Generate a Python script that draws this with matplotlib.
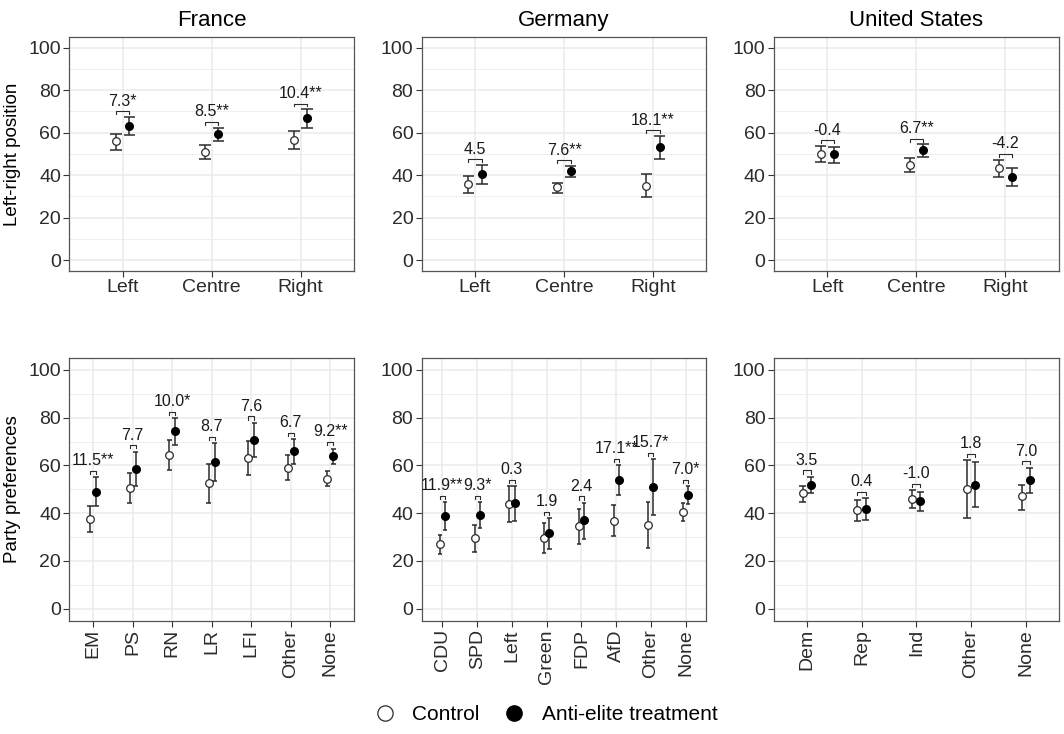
import numpy as np
import matplotlib
matplotlib.use('Agg')
import matplotlib.pyplot as plt
from matplotlib.lines import Line2D

plt.rcParams['font.family'] = ['Liberation Sans', 'DejaVu Sans']

# 上排：左右立场
lr_cats = ['Left', 'Centre', 'Right']

fr_lr_ctrl = [56.0, 50.8, 56.3]
fr_lr_ctrl_lo = [52.0, 47.4, 52.1]
fr_lr_ctrl_hi = [59.5, 54.0, 60.7]
fr_lr_treat = [63.2, 59.3, 66.8]
fr_lr_treat_lo = [59.0, 56.0, 62.4]
fr_lr_treat_hi = [67.3, 62.3, 70.9]
fr_lr_diff = ['7.3*', '8.5**', '10.4**']

de_lr_ctrl = [35.7, 34.2, 35.0]
de_lr_ctrl_lo = [31.8, 31.7, 29.5]
de_lr_ctrl_hi = [39.7, 36.5, 40.3]
de_lr_treat = [40.4, 41.8, 53.0]
de_lr_treat_lo = [35.7, 39.0, 47.5]
de_lr_treat_hi = [44.7, 44.2, 58.3]
de_lr_diff = ['4.5', '7.6**', '18.1**']

us_lr_ctrl = [49.8, 44.8, 43.4]
us_lr_ctrl_lo = [46.1, 41.5, 39.2]
us_lr_ctrl_hi = [53.6, 48.1, 47.3]
us_lr_treat = [49.7, 51.7, 39.2]
us_lr_treat_lo = [45.5, 48.6, 35.0]
us_lr_treat_hi = [53.3, 54.4, 43.3]
us_lr_diff = ['-0.4', '6.7**', '-4.2']

# 下排：政党偏好
fr_party = ['EM', 'PS', 'RN', 'LR', 'LFI', 'Other', 'None']
fr_pp_ctrl = [37.5, 50.6, 64.2, 52.7, 63.0, 59.0, 54.5]
fr_pp_ctrl_lo = [32.0, 44.2, 58.0, 44.3, 56.0, 53.8, 51.3]
fr_pp_ctrl_hi = [43.1, 56.9, 70.5, 60.8, 70.2, 64.3, 57.5]
fr_pp_treat = [49.0, 58.5, 74.4, 61.4, 70.6, 65.9, 63.9]
fr_pp_treat_lo = [43.1, 51.2, 68.7, 53.3, 63.6, 60.4, 60.4]
fr_pp_treat_hi = [55.0, 65.7, 79.7, 69.2, 77.8, 70.9, 67.0]
fr_pp_diff = ['11.5**', '7.7', '10.0*', '8.7', '7.6', '6.7', '9.2**']

de_party = ['CDU', 'SPD', 'Left', 'Green', 'FDP', 'AfD', 'Other', 'None']
de_pp_ctrl = [27.1, 29.7, 43.9, 29.7, 34.5, 36.8, 35.1, 40.6]
de_pp_ctrl_lo = [22.9, 23.9, 36.4, 23.5, 27.0, 30.3, 25.3, 36.8]
de_pp_ctrl_hi = [31.0, 35.2, 51.3, 35.7, 41.8, 43.4, 44.8, 44.1]
de_pp_treat = [38.9, 39.2, 44.1, 31.6, 37.1, 54.1, 50.9, 47.7]
de_pp_treat_lo = [33.1, 33.8, 36.8, 24.9, 29.2, 47.8, 39.3, 43.8]
de_pp_treat_hi = [44.5, 44.5, 51.3, 38.0, 44.3, 60.0, 62.5, 51.2]
de_pp_diff = ['11.9**', '9.3*', '0.3', '1.9', '2.4', '17.1**', '15.7*', '7.0*']

us_party = ['Dem', 'Rep', 'Ind', 'Other', 'None']
us_pp_ctrl = [48.4, 41.4, 46.0, 50.2, 47.0]
us_pp_ctrl_lo = [44.8, 36.9, 42.2, 37.9, 41.5]
us_pp_ctrl_hi = [51.6, 45.6, 49.7, 62.2, 52.0]
us_pp_treat = [51.7, 41.8, 45.2, 52.0, 54.0]
us_pp_treat_lo = [48.3, 37.2, 41.1, 42.7, 48.5]
us_pp_treat_hi = [55.2, 46.2, 48.7, 61.3, 59.0]
us_pp_diff = ['3.5', '0.4', '-1.0', '1.8', '7.0']

countries = ['France', 'Germany', 'United States']

dodge = 0.075
cap = 0.065
edge = '#2b2b2b'
grid_c = '#ebebeb'


def draw_panel(ax, cats, c, c_lo, c_hi, t, t_lo, t_hi, diff, rotate=False):
    x = np.arange(1, len(cats) + 1)
    xc = x - dodge
    xt = x + dodge

    # 网格
    for v in range(0, 101, 20):
        ax.axhline(v, color=grid_c, lw=1.1, zorder=0)
    for v in range(10, 100, 20):
        ax.axhline(v, color=grid_c, lw=0.6, zorder=0)
    for v in x:
        ax.axvline(v, color=grid_c, lw=1.1, zorder=0)

    # 误差线
    for xs, lo, hi in [(xc, c_lo, c_hi), (xt, t_lo, t_hi)]:
        ax.vlines(xs, lo, hi, color=edge, lw=1.1, zorder=2)
        ax.hlines(lo, xs - cap, xs + cap, color=edge, lw=1.1, zorder=2)
        ax.hlines(hi, xs - cap, xs + cap, color=edge, lw=1.1, zorder=2)

    ax.plot(xc, c, 'o', ms=5.5, mfc='white', mec=edge, mew=0.9, zorder=3)
    ax.plot(xt, t, 'o', ms=5.5, mfc='black', mec='black', zorder=3)

    # 差值标注
    top = np.maximum(c_hi, t_hi) + 2.7
    for i in range(len(cats)):
        ax.plot([xc[i], xc[i], xt[i], xt[i]], [top[i] - 1.3, top[i], top[i], top[i] - 1.3],
                color=edge, lw=0.8, zorder=2)
        ax.text(x[i], top[i] + 1.2, diff[i], ha='center', va='bottom', fontsize=11.5, color='#1a1a1a')

    ax.set_xlim(0.4, len(cats) + 0.6)
    ax.set_ylim(-5, 105)
    ax.set_yticks(range(0, 101, 20))
    ax.set_xticks(x)
    if rotate:
        ax.set_xticklabels(cats, rotation=90)
    else:
        ax.set_xticklabels(cats)
    ax.tick_params(axis='both', labelsize=14, colors='#333333', length=4, width=0.8,
                   labelcolor='#2b2b2b', pad=2)
    for s in ax.spines.values():
        s.set_color('#555555')
        s.set_linewidth(0.9)


fig = plt.figure(figsize=(10.64, 7.34), dpi=100)

lefts = [0.0651, 0.3963, 0.7274]
w = 0.2676

top_data = [
    (fr_lr_ctrl, fr_lr_ctrl_lo, fr_lr_ctrl_hi, fr_lr_treat, fr_lr_treat_lo, fr_lr_treat_hi, fr_lr_diff),
    (de_lr_ctrl, de_lr_ctrl_lo, de_lr_ctrl_hi, de_lr_treat, de_lr_treat_lo, de_lr_treat_hi, de_lr_diff),
    (us_lr_ctrl, us_lr_ctrl_lo, us_lr_ctrl_hi, us_lr_treat, us_lr_treat_lo, us_lr_treat_hi, us_lr_diff),
]
bottom_data = [
    (fr_party, fr_pp_ctrl, fr_pp_ctrl_lo, fr_pp_ctrl_hi, fr_pp_treat, fr_pp_treat_lo, fr_pp_treat_hi, fr_pp_diff),
    (de_party, de_pp_ctrl, de_pp_ctrl_lo, de_pp_ctrl_hi, de_pp_treat, de_pp_treat_lo, de_pp_treat_hi, de_pp_diff),
    (us_party, us_pp_ctrl, us_pp_ctrl_lo, us_pp_ctrl_hi, us_pp_treat, us_pp_treat_lo, us_pp_treat_hi, us_pp_diff),
]

for i in range(3):
    ax = fig.add_axes([lefts[i], 0.6312, w, 0.3184])
    draw_panel(ax, lr_cats, *top_data[i])
    ax.set_title(countries[i], fontsize=16, pad=8)
    if i == 0:
        ax.set_ylabel('Left-right position', fontsize=13.5, labelpad=5)

    ax2 = fig.add_axes([lefts[i], 0.1544, w, 0.3579])
    draw_panel(ax2, bottom_data[i][0], *bottom_data[i][1:], rotate=True)
    if i == 0:
        ax2.set_ylabel('Party preferences', fontsize=13.5, labelpad=5)

# 图例
handles = [
    Line2D([], [], marker='o', ls='none', ms=11, mfc='white', mec=edge, mew=0.9),
    Line2D([], [], marker='o', ls='none', ms=11, mfc='black', mec='black'),
]
fig.legend(handles, ['Control', 'Anti-elite treatment'], loc='lower center',
           bbox_to_anchor=(0.508, -0.012), ncol=2, frameon=False, fontsize=15,
           handletextpad=0.3, columnspacing=0.7)

fig.savefig('out.png', dpi=100)
